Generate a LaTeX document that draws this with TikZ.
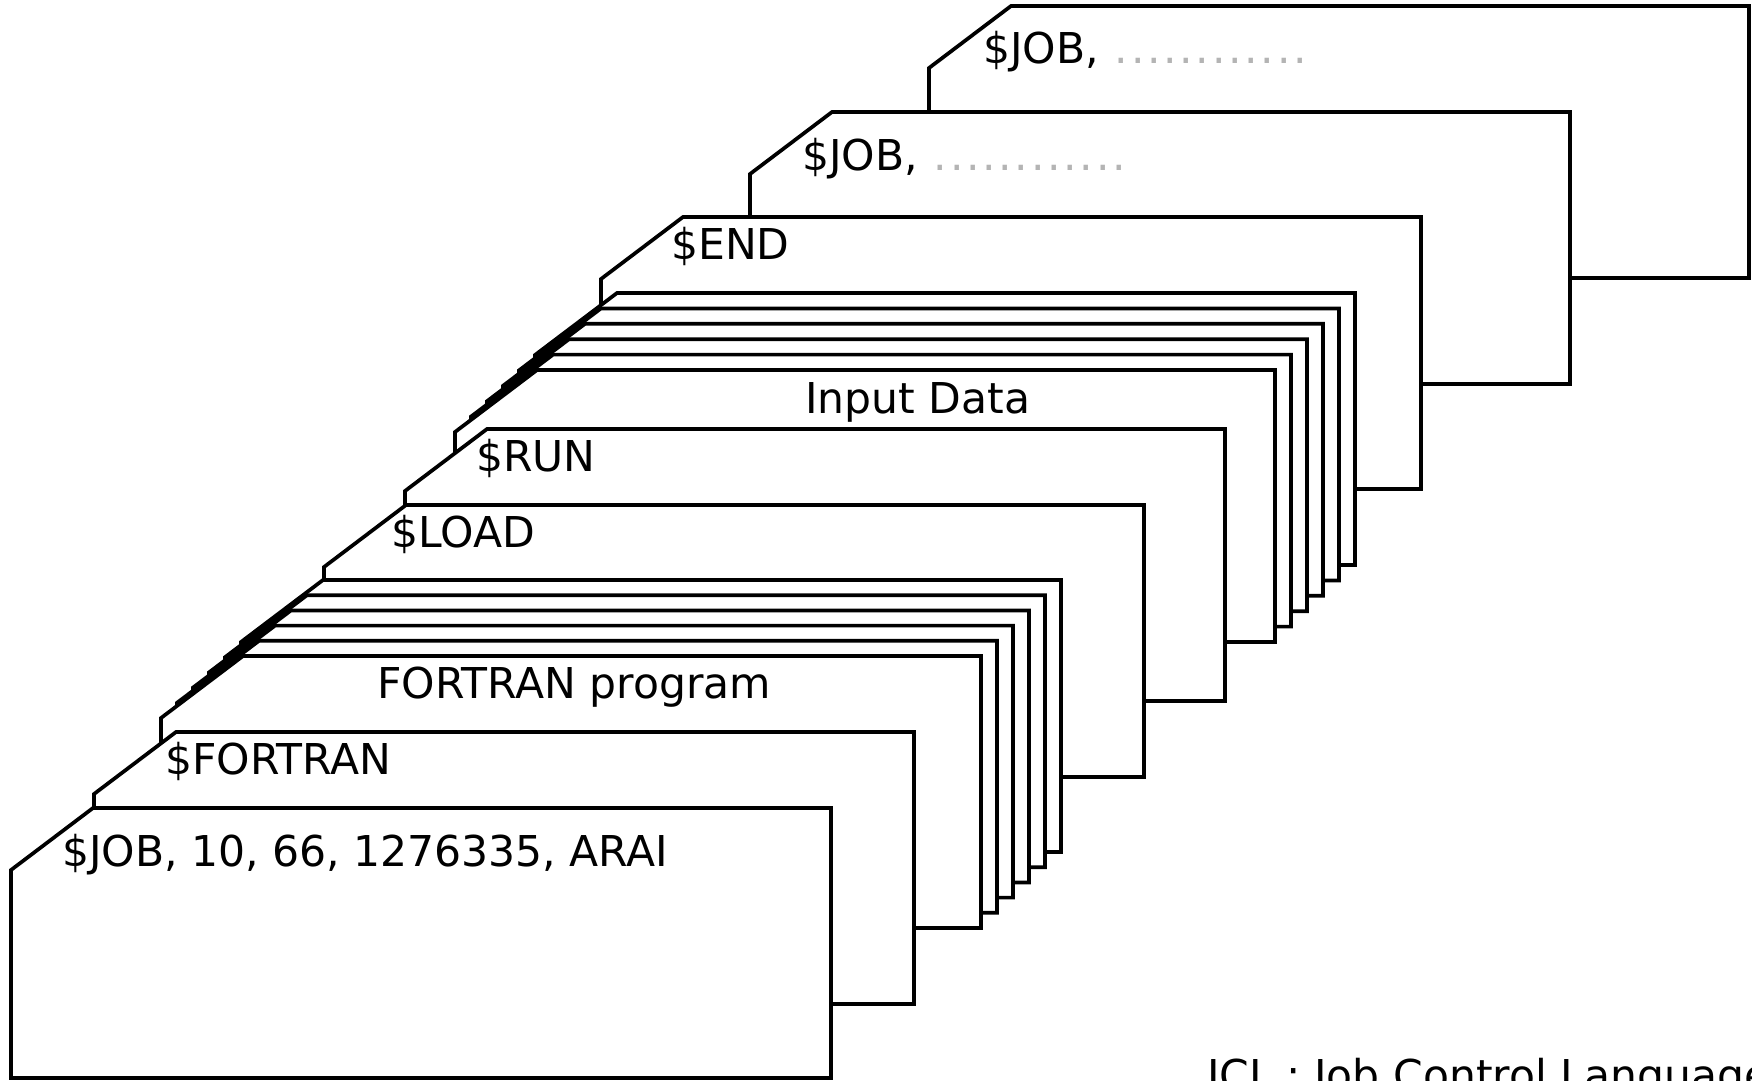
\documentclass[tikz,border=0pt]{standalone}
\usepackage{fontspec}
\setmainfont{DejaVu Sans}
\usepackage{xcolor}

\definecolor{dotgrey}{RGB}{180,180,180}
\newcommand{\jobdots}{\textcolor{dotgrey}{\foreach \k in {1,...,12}{.\kern2.7pt}}}

\begin{document}
\begin{tikzpicture}[
  x=1pt, y=-1pt,
  cardline/.style={draw=black, fill=white, line width=3.7pt, line join=miter},
  cardtext/.style={anchor=base west, inner sep=0pt, font=\fontsize{42.5}{46}\selectfont},
  pics/card/.style={code={
    \path[cardline] (-82,#1) -- (-82,62) -- (0,0) -- (738,0) -- (738,#1) -- cycle;}},
  pics/card/.default=272
]
\useasboundingbox (0,0) rectangle (1752,1080);
\clip (0,0) rectangle (1752,1080);

% cards, back to front
\pic at (1011,6) {card};
\pic at (832,112) {card};
\pic at (683,217) {card};
\foreach \i in {0,...,5}
  \pic at (617-16*\i, 293+15.4*\i) {card}; % data deck
\pic at (487,429) {card};
\pic at (406,505) {card};
\foreach \i in {0,...,5}
  \pic at (323-16*\i, 580+15.2*\i) {card}; % program deck
\pic at (176,732) {card};
\pic at (93,808) {card=270};

% punched texts
\node[cardtext] (jobnext2) at (983,63) {\$JOB,\hspace{16pt}\jobdots};
\node[cardtext] (jobnext1) at (802,170) {\$JOB,\hspace{16pt}\jobdots};
\node[cardtext] (endcard) at (671,259) {\$END};
\node[cardtext] (data) at (805,413) {Input Data};
\node[cardtext] (runcard) at (476,471) {\$RUN};
\node[cardtext] (loadcard) at (391,547) {\$LOAD};
\node[cardtext] (program) at (377,698) {FORTRAN program};
\node[cardtext] (fortcard) at (165,774) {\$FORTRAN};
\node[cardtext] (jobcard) at (62,866) {\$JOB, 10, 66, 1276335, ARAI};
\node[cardtext] (jclnote) at (1207,1090) {JCL : Job Control Language};
\end{tikzpicture}
\end{document}
